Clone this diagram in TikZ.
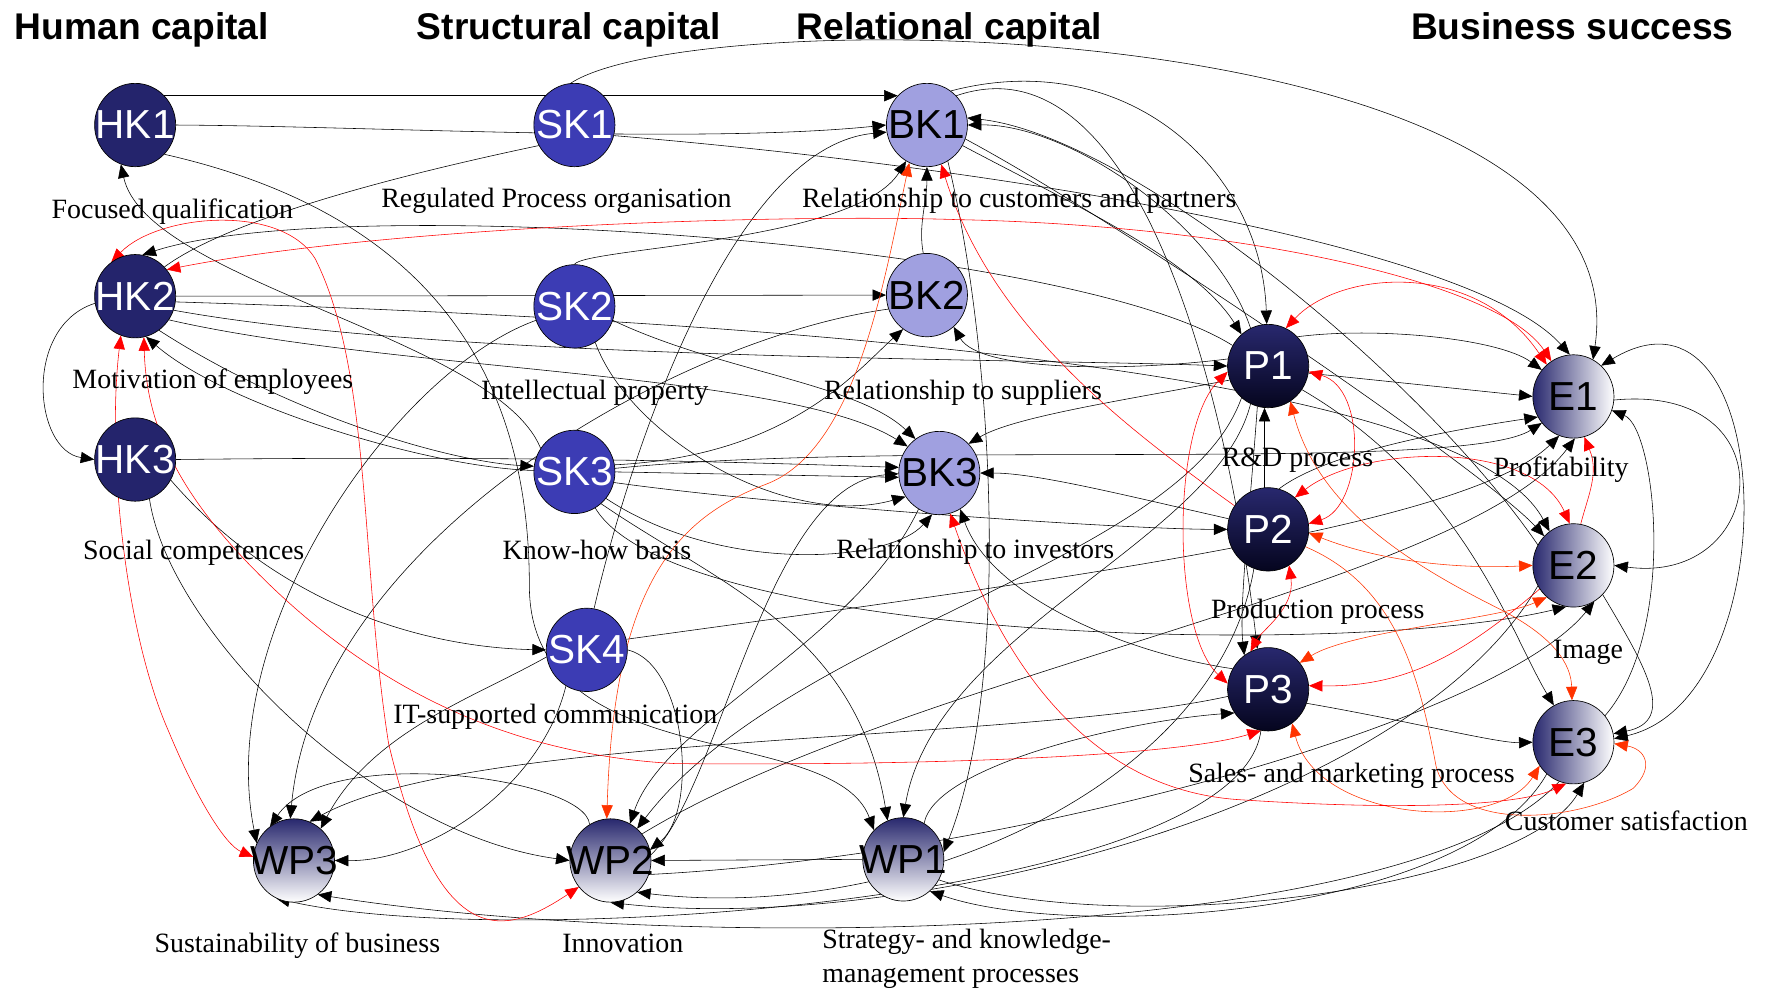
\documentclass[tikz,border=0pt]{standalone}
\usepackage{fontspec}
\setmainfont{Liberation Serif}
\newfontfamily\arialfont{Liberation Sans}
\usetikzlibrary{arrows.meta,shapes.geometric}
\pgfdeclarelayer{bg}
\pgfsetlayers{bg,main}
\definecolor{hkc}{HTML}{24246C}
\definecolor{skc}{HTML}{3C3CB4}
\definecolor{bkc}{HTML}{A0A0E0}
\definecolor{navy}{HTML}{28286E}
\definecolor{nearblack}{HTML}{05051E}
\definecolor{orred}{HTML}{FF3300}
\newcommand{\nt}[1]{\makebox[0pt]{#1}}
\tikzset{
  nbase/.style={ellipse, draw=black, line width=0.6pt, minimum width=72pt, minimum height=74pt, inner sep=0pt,
    font=\arialfont\fontsize{36pt}{36pt}\selectfont},
  nhk/.style={nbase, fill=hkc, text=white},
  nsk/.style={nbase, fill=skc, text=white},
  nbk/.style={nbase, fill=bkc, text=black},
  np/.style={nbase, top color=navy, bottom color=nearblack, text=white},
  ne/.style={nbase, left color=navy, right color=white, text=black},
  nwp/.style={nbase, top color=navy, bottom color=white, text=black},
  lbl/.style={anchor=base, inner sep=0pt, font=\fontsize{24.8pt}{29pt}\selectfont},
  ttl/.style={anchor=base, inner sep=0pt, font=\arialfont\bfseries\fontsize{33pt}{33pt}\selectfont},
  tip/.tip={Triangle[length=12pt,width=10pt]},
  pln/.style={draw=black, line width=0.5pt},
  blk/.style={draw=black, line width=0.5pt, -tip},
  blkb/.style={draw=black, line width=0.5pt, tip-tip},
  rdd/.style={draw=red, line width=0.5pt, -tip},
  rddb/.style={draw=red, line width=0.5pt, tip-tip},
  orgb/.style={draw=orred, line width=0.5pt, tip-tip},
  org/.style={draw=orred, line width=0.5pt, -tip},
}
\begin{document}
\begin{tikzpicture}[x=1pt,y=-1pt]
\useasboundingbox (0,0) rectangle (1568,880);
% titles
\node[ttl] (t1) at (126,35) {Human capital};
\node[ttl] (t2) at (505,35) {Structural capital};
\node[ttl] (t3) at (843,35) {Relational capital};
\node[ttl] (t4) at (1396,35) {Business success};
% nodes
\node[nhk] (HK1) at (120,111) {\nt{HK1}};
\node[nhk] (HK2) at (120,263) {\nt{HK2}};
\node[nhk] (HK3) at (120,408) {\nt{HK3}};
\node[nsk] (SK1) at (510,111) {\nt{SK1}};
\node[nsk] (SK2) at (510,272) {\nt{SK2}};
\node[nsk] (SK3) at (510,419) {\nt{SK3}};
\node[nsk] (SK4) at (521,577) {\nt{SK4}};
\node[nbk] (BK1) at (823,111) {\nt{BK1}};
\node[nbk] (BK2) at (823,262) {\nt{BK2}};
\node[nbk] (BK3) at (834,420) {\nt{BK3}};
\node[np] (P1) at (1126,325) {\nt{P1}};
\node[np] (P2) at (1126,470) {\nt{P2}};
\node[np] (P3) at (1126,612) {\nt{P3}};
\node[ne] (E1) at (1397,352) {\nt{E1}};
\node[ne] (E2) at (1397,502) {\nt{E2}};
\node[ne] (E3) at (1397,659) {\nt{E3}};
\node[nwp] (WP3) at (261,764) {\nt{WP3}};
\node[nwp] (WP2) at (542,764) {\nt{WP2}};
\node[nwp] (WP1) at (802,763) {\nt{WP1}};
% labels
\node[lbl] (l1) at (153,194) {Focused qualification};
\node[lbl] (l2) at (494,184) {Regulated Process organisation};
\node[lbl] (l3) at (905,184) {Relationship to customers and partners};
\node[lbl] (l4) at (189,345) {Motivation of employees};
\node[lbl] (l5) at (528,355) {Intellectual property};
\node[lbl] (l6) at (855,355) {Relationship to suppliers};
\node[lbl] (l7) at (1152,414) {R\&D process};
\node[lbl] (l8) at (1386,423) {Profitability};
\node[lbl] (l9) at (172,497) {Social competences};
\node[lbl] (l10) at (530,497) {Know-how basis};
\node[lbl] (l11) at (866,496) {Relationship to investors};
\node[lbl] (l12) at (1170,549) {Production process};
\node[lbl] (l13) at (1410,585) {Image};
\node[lbl] (l14) at (493,642) {IT-supported communication};
\node[lbl] (l15) at (1200,695) {Sales- and marketing process};
\node[lbl] (l16) at (1444,737) {Customer satisfaction};
\node[lbl] (l17) at (264,846) {Sustainability of business};
\node[lbl] (l18) at (553,846) {Innovation};
\node[lbl,anchor=base west] (l19) at (730,842) {Strategy- and knowledge-};
\node[lbl,anchor=base west] (l20) at (730,872) {management processes};
\begin{pgfonlayer}{bg}
% ---- black connectors
\draw[blk] (HK1.45) -- (BK1.135);
\draw[blk] (HK1.east) .. controls (330,112) and (620,128) .. (BK1.west);
\draw[blk] (SK1.95) .. controls (620,0) and (1460,10) .. (E1.62);
\draw[blk] (SK1.-15) .. controls (900,150) and (1310,220) .. (E1.95);
\draw[blk] (SK3.145) .. controls (440,300) and (130,250) .. (HK1.250);
\draw[blk] (HK1.-45) .. controls (380,190) and (470,330) .. (470,520) .. controls (470,690) and (740,640) .. (WP1.135);
\draw[pln] (HK2.45) .. controls (210,190) and (380,150) .. (SK1.210);
\draw[blk] (P1.150) .. controls (950,215) and (300,170) .. (HK2.80);
\draw[blk] (HK2.east) -- (BK2.west);
\draw[blk] (HK2.-8) .. controls (700,285) and (1300,330) .. (E2.125);
\draw[blk] (HK2.-20) .. controls (400,320) and (900,318) .. (P1.180);
\draw[blk] (HK2.-35) .. controls (350,330) and (700,330) .. (BK3.140);
\draw[blk] (HK2.-55) .. controls (260,370) and (400,410) .. (SK3.172);
\draw[blk] (SK3.178) .. controls (380,415) and (200,360) .. (HK2.-75);
\draw[blk] (HK2.190) .. controls (20,290) and (30,400) .. (HK3.180);
\draw[blk] (HK3.-30) .. controls (250,540) and (380,575) .. (SK4.180);
\draw[blk] (HK3.-70) .. controls (150,560) and (330,740) .. (WP2.180);
\draw[blk] (HK3.east) .. controls (500,404) and (700,412) .. (BK3.172);
\draw[blk] (SK3.east) -- (BK3.186);
\draw[blk] (SK2.200) .. controls (350,330) and (190,560) .. (WP3.155);
\draw[blk] (BK2.200) .. controls (600,300) and (280,480) .. (WP3.95);
\draw[blk] (SK4.-120) .. controls (480,700) and (380,765) .. (WP3.east);
\draw[blk] (SK4.190) .. controls (420,620) and (330,650) .. (WP3.50);
\draw[blk] (WP2.120) .. controls (520,690) and (290,660) .. (WP3.125);
\draw[blk] (P3.190) .. controls (900,660) and (420,650) .. (WP3.68);
\draw[blk] (WP1.west) -- (WP2.east);
\draw[blk] (SK4.east) .. controls (610,590) and (620,720) .. (WP2.15);
\draw[blk] (BK3.-120) .. controls (760,570) and (590,640) .. (WP2.62);
\draw[blk] (WP2.8) .. controls (640,700) and (680,430) .. (BK3.181);
\draw[blk] (SK4.80) .. controls (560,400) and (650,130) .. (BK1.190);
\draw[blk] (SK2.90) .. controls (520,220) and (760,215) .. (BK1.-120);
\draw[blk] (BK2.95) .. controls (815,200) and (823,180) .. (BK1.-90);
\draw[blk] (SK2.-20) .. controls (640,330) and (760,340) .. (BK3.125);
\draw[blk] (SK2.-60) .. controls (560,390) and (700,470) .. (BK3.-145);
\draw[blk] (SK3.-40) .. controls (640,510) and (790,500) .. (BK3.-100);
\draw[blk] (SK3.10) .. controls (700,405) and (760,330) .. (BK2.-125);
\draw[blk] (SK3.5) .. controls (800,390) and (1300,420) .. (E1.-140);
\draw[blk] (SK3.-15) .. controls (700,450) and (1000,470) .. (P2.180);
\draw[blk] (SK3.-60) .. controls (600,570) and (1200,585) .. (E2.-100);
\draw[blk] (SK3.-50) .. controls (640,520) and (760,560) .. (WP1.112);
\draw[blk] (SK4.15) .. controls (900,520) and (1300,470) .. (E1.-110);
\draw[blk] (P1.170) .. controls (1000,330) and (870,330) .. (BK2.-50);
\draw[blk] (P1.200) .. controls (1000,355) and (900,370) .. (BK3.45);
\draw[blk] (P2.165) .. controls (1000,440) and (920,420) .. (BK3.east);
\draw[blk] (P3.150) .. controls (1000,580) and (880,530) .. (BK3.-60);
\draw[blk] (P1.115) .. controls (1080,200) and (950,110) .. (BK1.east);
\draw[blk] (E2.150) .. controls (1260,330) and (1000,120) .. (BK1.10);
\draw[blk] (BK1.-30) .. controls (950,180) and (1060,230) .. (P1.130);
\draw[blk] (BK1.55) .. controls (1000,40) and (1120,150) .. (P1.92);
\draw[blk] (BK1.45) .. controls (1010,30) and (1090,350) .. (P3.105);
\draw[blk] (BK1.-60) .. controls (880,300) and (900,600) .. (WP1.10);
\draw[blk] (BK1.-20) .. controls (1000,200) and (1320,420) .. (E2.135);
\draw[blk] (P1.-10) -- (E1.180);
\draw[blk] (P1.45) .. controls (1220,290) and (1330,300) .. (E1.140);
\draw[blk] (P1.-35) .. controls (1300,430) and (1340,560) .. (E3.118);
\draw[blk] (P2.95) -- (P1.-95);
\draw[blk] (P2.75) .. controls (1180,400) and (1300,380) .. (E1.-150);
\draw[blk] (P3.-20) .. controls (1250,640) and (1330,660) .. (E3.180);
\draw[blk] (E1.-5) .. controls (1590,340) and (1570,520) .. (E2.east);
\draw[blk] (E3.40) .. controls (1490,560) and (1470,380) .. (E1.-20);
\draw[blkb] (E3.5) .. controls (1590,620) and (1580,230) .. (E1.48);
\draw[blk] (WP2.-20) .. controls (900,760) and (1330,640) .. (E2.-60);
\draw[blk] (E2.-45) .. controls (1460,590) and (1490,640) .. (E3.12);
\draw[blk] (WP2.40) .. controls (800,600) and (1300,520) .. (E1.-88);
\draw[blk] (WP1.60) .. controls (830,680) and (1000,640) .. (P3.-145);
\draw[blk] (P1.-115) .. controls (1080,480) and (830,560) .. (WP1.90);
\draw[blk] (P1.-130) .. controls (1050,500) and (700,560) .. (WP2.50);
\draw[blk] (P1.-105) .. controls (1110,450) and (1100,540) .. (P3.125);
\draw[blk] (E3.-110) .. controls (1250,840) and (600,845) .. (WP3.-55);
\draw[blk] (P3.-100) .. controls (1100,800) and (450,845) .. (WP3.-115);
\draw[blk] (E2.-150) .. controls (1250,720) and (800,830) .. (WP2.-90);
\draw[blk] (P2.-110) .. controls (1080,700) and (800,820) .. (WP2.-50);
\draw[blk] (E3.-130) .. controls (1300,815) and (950,835) .. (WP1.-50);
\draw[blk] (WP1.-30) .. controls (1000,835) and (1350,790) .. (E3.-75);
% ---- red connectors
\draw[rddb] (WP2.-140) .. controls (450,830) and (390,850) .. (345,660) .. controls (320,500) and (330,330) .. (280,230) .. controls (250,180) and (140,190) .. (HK2.125);
\draw[rddb] (HK2.40) .. controls (350,200) and (700,190) .. (850,195) .. controls (1100,200) and (1330,250) .. (E1.122);
\draw[rddb] (HK2.-110) .. controls (95,400) and (110,560) .. (150,650) .. controls (175,710) and (200,750) .. (WP3.175);
\draw[rddb] (HK2.-78) .. controls (130,380) and (160,440) .. (230,510) .. controls (330,610) and (450,670) .. (600,678) .. controls (850,680) and (1050,670) .. (P3.-100);
\draw[orgb] (BK1.-115) .. controls (785,250) and (760,400) .. (680,430) .. controls (600,460) and (545,520) .. (WP2.95);
\draw[rdd] (P2.145) .. controls (1000,380) and (880,290) .. (BK1.-70);
\draw[rddb] (P1.65) .. controls (1190,240) and (1310,230) .. (E1.130);
\draw[rddb] (P1.188) .. controls (1040,380) and (1040,560) .. (P3.172);
\draw[rddb] (P1.-8) .. controls (1215,345) and (1210,450) .. (P2.8);
\draw[rddb] (P2.-60) .. controls (1150,540) and (1120,560) .. (P3.115);
\draw[orgb] (P2.-5) .. controls (1230,500) and (1300,505) .. (E2.180);
\draw[rddb] (P2.50) .. controls (1210,395) and (1360,390) .. (E2.95);
\draw[rdd] (E2.80) .. controls (1410,440) and (1420,420) .. (E1.-75);
\draw[orgb] (P3.40) .. controls (1200,560) and (1330,550) .. (E2.-130);
\draw[rdd] (E2.-145) .. controls (1300,580) and (1250,610) .. (P3.5);
\draw[orgb] (P3.-55) .. controls (1170,730) and (1330,740) .. (E3.-145);
\draw[rddb] (BK3.-75) .. controls (880,560) and (950,700) .. (1100,710) .. controls (1250,720) and (1350,715) .. (E3.-100);
\draw[org] (P2.-25) .. controls (1240,520) and (1260,600) .. (1275,680) .. controls (1290,740) and (1400,730) .. (1450,700) .. controls (1470,680) and (1460,665) .. (E3.-2);
\draw[orgb] (P1.-58) .. controls (1170,450) and (1250,500) .. (1330,540) .. controls (1380,565) and (1395,590) .. (E3.92);
\end{pgfonlayer}
\end{tikzpicture}
\end{document}
